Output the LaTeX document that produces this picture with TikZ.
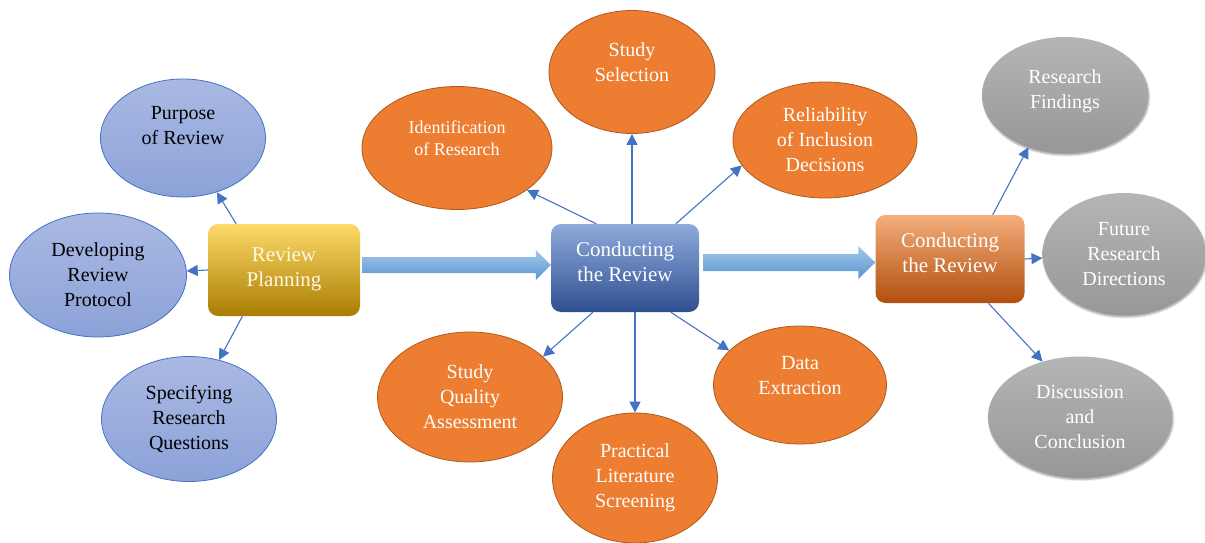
\documentclass[tikz,border=0pt]{standalone}
\usepackage{fontspec}
\setmainfont{Liberation Serif}
\usetikzlibrary{arrows.meta,shapes.geometric,shadows.blur,calc}

\definecolor{linkblue}{HTML}{4472C4}
\definecolor{planlight}{HTML}{A9B9E3}
\definecolor{plandark}{HTML}{8CA2D8}
\definecolor{orangefill}{HTML}{ED7D31}
\definecolor{orangeline}{HTML}{B0581C}
\definecolor{greytop}{HTML}{B5B5B5}
\definecolor{greybot}{HTML}{979797}
\definecolor{shaftlight}{HTML}{A3C8EA}
\definecolor{shaftdark}{HTML}{5B95D2}
\definecolor{goldtop}{HTML}{FFDA6A}
\definecolor{goldmid}{HTML}{FFC000}
\definecolor{goldbot}{HTML}{A87D00}
\definecolor{goldtext}{HTML}{FFF8E1}
\definecolor{bluetop}{HTML}{8FAADC}
\definecolor{bluebot}{HTML}{2F5090}
\definecolor{ambertop}{HTML}{F4AE7C}
\definecolor{ambermid}{HTML}{E57630}
\definecolor{amberbot}{HTML}{B24F0E}

\begin{document}
\begin{tikzpicture}[x=1pt,y=1pt,
    bub/.style={ellipse, inner sep=0pt, align=center, font=\fontsize{20}{25}\selectfont},
    planbub/.style={bub, draw=linkblue, line width=0.8pt, top color=planlight, bottom color=plandark, text=black},
    condbub/.style={bub, draw=orangeline, line width=0.8pt, fill=orangefill, text=white},
    resbub/.style={bub, top color=greytop, bottom color=greybot, text=white,
        blur shadow={shadow xshift=1pt, shadow yshift=-2pt, shadow blur steps=6}},
    stage/.style={rounded corners=10pt, align=center, inner sep=0pt, font=\fontsize{21}{25}\selectfont},
    conn/.style={draw=linkblue, line width=1.1pt, -{Triangle[length=11pt,width=11pt]}},
    bigarrow/.style={top color=shaftlight, bottom color=shaftdark}]

\useasboundingbox (0,0) rectangle (1205,-543);

% stages
\node[stage, minimum width=152pt, minimum height=92pt, top color=goldtop, middle color=goldmid, bottom color=goldbot, text=goldtext] (plan) at (284,-270) {Review\\Planning\\[-19pt]};
\node[stage, minimum width=148pt, minimum height=88pt, top color=bluetop, middle color=linkblue, bottom color=bluebot, text=white] (conduct) at (625,-268) {Conducting\\the Review\\[-12pt]};
\node[stage, minimum width=149pt, minimum height=88pt, top color=ambertop, middle color=ambermid, bottom color=amberbot, text=white] (report) at (950,-259) {Conducting\\the Review\\[-12pt]};

% planning
\node[planbub, minimum width=165pt, minimum height=118pt] (purpose) at (183,-138) {Purpose\\of Review\\};
\node[planbub, minimum width=177pt, minimum height=124pt] (develop) at (98,-275) {Developing\\Review\\Protocol};
\node[planbub, minimum width=175pt, minimum height=125pt] (specify) at (189,-419) {Specifying\\Research\\Questions};

% conducting
\node[condbub, minimum width=166pt, minimum height=123pt] (select) at (632,-72) {Study\\Selection\\[-6pt]};
\node[condbub, minimum width=190pt, minimum height=123pt, font=\fontsize{18}{22}\selectfont] (ident) at (457,-148) {Identification\\of Research\\[-2pt]};
\node[condbub, minimum width=184pt, minimum height=116pt] (reliab) at (825,-140) {Reliability\\of Inclusion\\Decisions};
\node[condbub, minimum width=185pt, minimum height=130pt] (quality) at (470,-397) {Study\\Quality\\Assessment};
\node[condbub, minimum width=165pt, minimum height=130pt] (practical) at (635,-478) {Practical\\Literature\\Screening};
\node[condbub, minimum width=173pt, minimum height=118pt] (data) at (800,-385) {Data\\Extraction\\[-6pt]};

% reporting
\node[resbub, minimum width=166pt, minimum height=116pt] (findings) at (1065,-95) {Research\\Findings\\[-14pt]};
\node[resbub, minimum width=163pt, minimum height=122pt] (future) at (1124,-254) {Future\\Research\\Directions};
\node[resbub, minimum width=184pt, minimum height=121pt] (discuss) at (1080,-417) {Discussion\\and\\Conclusion};

% block arrows between stages
\coordinate (a1) at ($(plan.east |- conduct.west)+(2,3)$);
\coordinate (b1) at ($(conduct.west)+(0,3)$);
\shade[bigarrow] ($(a1)+(0,8)$) -- ($(b1)+(-15,8)$) -- ($(b1)+(-15,15)$) -- (b1) -- ($(b1)+(-15,-15)$) -- ($(b1)+(-15,-8)$) -- ($(a1)+(0,-8)$) -- cycle;
\coordinate (b2) at ($(report.west)+(0,-3.5)$);
\coordinate (a2) at ($(conduct.east |- b2)+(4,0)$);
\shade[bigarrow] ($(a2)+(0,8.5)$) -- ($(b2)+(-17,8.5)$) -- ($(b2)+(-17,16.5)$) -- (b2) -- ($(b2)+(-17,-16.5)$) -- ($(b2)+(-17,-8.5)$) -- ($(a2)+(0,-8.5)$) -- cycle;

% connectors
\draw[conn] (plan.136) -- (purpose.302);
\draw[conn] (plan.west) -- (develop);
\draw[conn] (plan.228) -- (specify.63);

\draw[conn] (conduct.123) -- (ident.329);
\draw[conn] (conduct.north -| select) -- (select);
\draw[conn] (conduct.41) -- (reliab.197);
\draw[conn] (conduct.234) -- (quality.29);
\draw[conn] (conduct.south -| practical) -- (practical);
\draw[conn] (conduct.316) -- (data.154);

\draw[conn] (report.46) -- (findings.235);
\draw[conn] (report.east) -- (future);
\draw[conn] (report.311) -- (discuss.124);
\end{tikzpicture}
\end{document}
